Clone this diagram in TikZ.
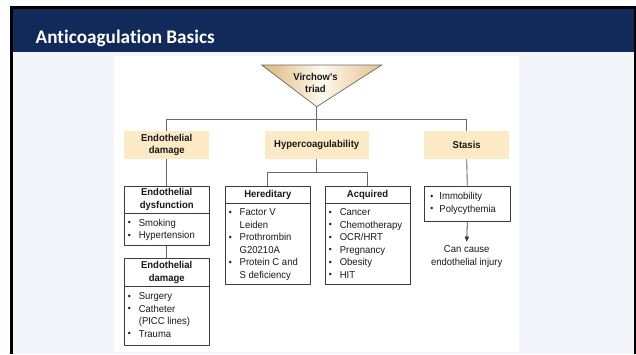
\documentclass[tikz,border=0pt]{standalone}
\usepackage{fontspec}
\setmainfont{Liberation Sans}
\newfontfamily\titlefont[Ligatures=NoCommon]{Carlito}
\newfontfamily\diagfont[FakeStretch=0.95]{Liberation Sans}
\usetikzlibrary{arrows.meta,calc}

\definecolor{navy}{RGB}{17,42,90}
\definecolor{pagebg}{RGB}{242,246,250}
\definecolor{tanfill}{RGB}{252,234,198}
\definecolor{tandark}{RGB}{222,180,122}
\definecolor{linegray}{RGB}{105,105,105}
\definecolor{boxline}{RGB}{60,60,60}
\definecolor{ink}{RGB}{25,25,25}

\newcommand\bul{\raisebox{0.06em}{\scalebox{0.9}{\textbullet}}}

\tikzset{
  conn/.style={draw=linegray, line width=0.9pt},
  catbox/.style={fill=tanfill, draw=none, minimum height=28pt, inner sep=0pt,
    font=\diagfont\bfseries\fontsize{10}{12.5}\selectfont, text=ink, align=center},
  listbox/.style={draw=boxline, line width=0.8pt, fill=white, inner sep=0pt},
  hdr/.style={inner sep=0pt, align=center, text=ink,
    font=\diagfont\bfseries\fontsize{10}{12.5}\selectfont},
  items/.style={inner sep=0pt, text=ink, anchor=north west,
    font=\diagfont\fontsize{10}{12.5}\selectfont},
  divider/.style={draw=boxline, line width=0.8pt}
}

\begin{document}
\begin{tikzpicture}[x=1pt,y=-1pt]
\useasboundingbox (0,0) rectangle (636,354);

% slide frame and background
\fill[white] (0,0) rectangle (636,354);
\fill[black] (10,6) rectangle (636,354);
\fill[pagebg] (13,9) rectangle (633.5,354);
\fill[navy] (13,9) rectangle (633.5,52);
\fill[white] (114,56) rectangle (519,352);

\node[anchor=base west, inner sep=0pt, text=white,
      font=\titlefont\bfseries\fontsize{19.2}{23}\selectfont] (title) at (35.5,43.8) {Anticoagulation Basics};

% Virchow's triad
\shade[left color=tandark, right color=tandark!75!tanfill, middle color=tanfill!30!white]
  (261.7,65) -- (381.7,65) -- (316.7,106.7) -- cycle;
\draw[draw=linegray, line width=0.7pt] (261.7,65) -- (381.7,65) -- (316.7,106.7) -- cycle;
\coordinate (apex) at (316.7,106.7);
\node[hdr] (vt) at (315.5,83) {Virchow's\\triad};

% three categories
\node[catbox, minimum width=85pt] (ed) at (166.7,145) {Endothelial\\damage};
\node[catbox, minimum width=104pt] (hc) at (316.7,145) {Hypercoagulability};
\node[catbox, minimum width=85pt] (st) at (466.7,145) {Stasis};

\coordinate (j1) at (316.7,119.5);
\draw[conn] (apex) -- (hc.north);
\draw[conn] (ed.north) |- (j1) -| (st.north);

% endothelial column
\node[listbox, anchor=north, minimum width=85.3pt, minimum height=59.3pt] (dys) at (166.7,185.7) {};
\draw[divider] ($(dys.north west)+(0,27.6)$) -- ($(dys.north east)+(0,27.6)$);
\node[hdr] (dysh) at ($(dys.north)+(0,13.8)$) {Endothelial\\dysfunction};
\node[items] (dysi) at ($(dys.north west)+(4,31.6)$) {%
  \begin{tabular}{@{}l@{\hspace{8pt}}l@{}}
  \bul & Smoking\\
  \bul & Hypertension
  \end{tabular}};

\node[listbox, anchor=north, minimum width=85.3pt, minimum height=86.7pt] (dam) at (166.7,258.3) {};
\draw[divider] ($(dam.north west)+(0,28.4)$) -- ($(dam.north east)+(0,28.4)$);
\node[hdr] (damh) at ($(dam.north)+(0,14.2)$) {Endothelial\\damage};
\node[items] (dami) at ($(dam.north west)+(4,32.4)$) {%
  \begin{tabular}{@{}l@{\hspace{8pt}}l@{}}
  \bul & Surgery\\
  \bul & Catheter\\
       & (PICC lines)\\
  \bul & Trauma
  \end{tabular}};

\draw[conn] (ed.south) -- (dys.north);
\draw[conn] (dys.south) -- (dam.north);

% hypercoagulability column
\node[listbox, anchor=north, minimum width=85.7pt, minimum height=98.3pt] (her) at (267.8,185.7) {};
\draw[divider] ($(her.north west)+(0,17.6)$) -- ($(her.north east)+(0,17.6)$);
\node[hdr] (herh) at ($(her.north)+(0,9)$) {Hereditary};
\node[items] (heri) at ($(her.north west)+(4,21.2)$) {%
  \begin{tabular}{@{}l@{\hspace{8pt}}l@{}}
  \bul & Factor V\\
       & Leiden\\
  \bul & Prothrombin\\
       & G20210A\\
  \bul & Protein C and\\
       & S deficiency
  \end{tabular}};

\node[listbox, anchor=north, minimum width=85pt, minimum height=98.3pt] (acq) at (367.5,185.7) {};
\draw[divider] ($(acq.north west)+(0,17.6)$) -- ($(acq.north east)+(0,17.6)$);
\node[hdr] (acqh) at ($(acq.north)+(0,9)$) {Acquired};
\node[items] (acqi) at ($(acq.north west)+(4,21.2)$) {%
  \begin{tabular}{@{}l@{\hspace{8pt}}l@{}}
  \bul & Cancer\\
  \bul & Chemotherapy\\
  \bul & OCR/HRT\\
  \bul & Pregnancy\\
  \bul & Obesity\\
  \bul & HIT
  \end{tabular}};

\coordinate (j2) at (316.7,172.5);
\draw[conn] (hc.south) -- (j2);
\draw[conn] (her.north) |- (j2) -| (acq.north);

% stasis column
\node[listbox, anchor=north, minimum width=85.3pt, minimum height=35.3pt] (stb) at (467.3,185.7) {};
\node[items] (stbi) at ($(stb.north west)+(6,5.2)$) {%
  \begin{tabular}{@{}l@{\hspace{6pt}}l@{}}
  \bul & Immobility\\
  \bul & Polycythemia
  \end{tabular}};
\draw[conn] (st.south) -- (stb.north);

\node[inner xsep=0pt, inner ysep=3.8pt, align=center, text=ink,
      font=\diagfont\fontsize{10}{12.5}\selectfont] (cause) at (466.7,256.4) {Can cause\\endothelial injury};
\draw[draw=boxline, line width=0.8pt, -{Triangle[length=5pt,width=4.5pt]}] (stb.south) -- (cause.north);

\end{tikzpicture}
\end{document}
